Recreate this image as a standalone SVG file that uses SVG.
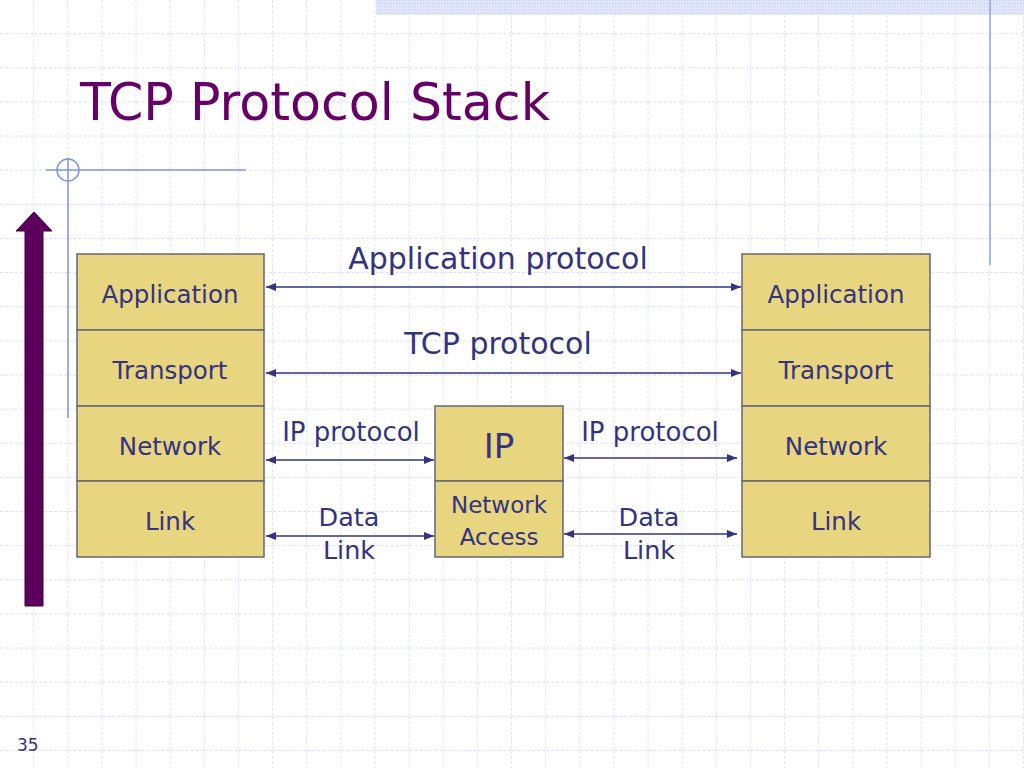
<svg xmlns="http://www.w3.org/2000/svg" width="1024" height="768" viewBox="0 0 1024 768">
<defs>
<pattern id="grid" x="0" y="0" width="34.133" height="34.133" patternUnits="userSpaceOnUse">
<path d="M34.133 0V34.133M0 34.133H34.133" fill="none" stroke="#ccd2f0" stroke-width="1.3" stroke-dasharray="3,2"/>
</pattern>
<pattern id="dots" x="0" y="0" width="3" height="3" patternUnits="userSpaceOnUse">
<rect width="3" height="3" fill="#e4e9fa"/>
<rect width="1.5" height="1.5" fill="#c9d2f2"/>
</pattern>
<marker id="ah" viewBox="0 0 10 10" refX="10" refY="5" markerWidth="10" markerHeight="10" markerUnits="userSpaceOnUse" orient="auto-start-reverse">
<path d="M0 1L10 5L0 9Z" fill="#333380"/>
</marker>
<style>
.box{fill:#e8d580;stroke:#666677;stroke-width:1.5}
.lbl{font-family:"DejaVu Sans",Verdana,sans-serif;fill:#333380;text-anchor:middle}
.con{stroke:#333380;stroke-width:1.5;fill:none;marker-start:url(#ah);marker-end:url(#ah)}
</style>
</defs>
<rect width="1024" height="768" fill="#ffffff"/>
<rect width="1024" height="768" fill="url(#grid)"/>
<rect x="376" y="0" width="648" height="15" fill="url(#dots)"/>
<line x1="990" y1="0" x2="990" y2="265" stroke="#8fa3e6" stroke-width="1.5"/>
<line x1="46" y1="170" x2="246" y2="170" stroke="#7f95e0" stroke-width="1.5"/>
<line x1="68" y1="158" x2="68" y2="418" stroke="#7f95e0" stroke-width="1.5"/>
<circle cx="68" cy="170" r="11" fill="none" stroke="#7f95e0" stroke-width="1.5"/>
<text x="80" y="120" font-family="DejaVu Sans,Verdana,sans-serif" font-size="52" fill="#660066" textLength="470" lengthAdjust="spacingAndGlyphs">TCP Protocol Stack</text>
<g id="updown">
<path d="M25 606V231H16L34 212L52 231H43V606Z" fill="#5c005c" stroke="#3d003d" stroke-width="1"/>
</g>
<g id="left-stack">
<rect class="box" x="77" y="254" width="187" height="76"/>
<rect class="box" x="77" y="330" width="187" height="76"/>
<rect class="box" x="77" y="406" width="187" height="75"/>
<rect class="box" x="77" y="481" width="187" height="76"/>
<text class="lbl" x="170" y="303" font-size="24.5">Application</text>
<text class="lbl" x="170" y="379" font-size="24.5">Transport</text>
<text class="lbl" x="170" y="455" font-size="24.5">Network</text>
<text class="lbl" x="170" y="530" font-size="24.5">Link</text>
</g>
<g id="right-stack">
<rect class="box" x="742" y="254" width="188" height="76"/>
<rect class="box" x="742" y="330" width="188" height="76"/>
<rect class="box" x="742" y="406" width="188" height="75"/>
<rect class="box" x="742" y="481" width="188" height="76"/>
<text class="lbl" x="836" y="303" font-size="24.5">Application</text>
<text class="lbl" x="836" y="379" font-size="24.5">Transport</text>
<text class="lbl" x="836" y="455" font-size="24.5">Network</text>
<text class="lbl" x="836" y="530" font-size="24.5">Link</text>
</g>
<g id="router">
<rect class="box" x="435" y="406" width="128" height="75"/>
<rect class="box" x="435" y="481" width="128" height="76"/>
<text class="lbl" x="499" y="458" font-size="34">IP</text>
<text class="lbl" x="499" y="513" font-size="23">Network</text>
<text class="lbl" x="499" y="545" font-size="23">Access</text>
</g>
<g id="connectors">
<line class="con" x1="266" y1="287" x2="741" y2="287"/>
<line class="con" x1="266" y1="373" x2="741" y2="373"/>
<line class="con" x1="266" y1="460" x2="434" y2="460"/>
<line class="con" x1="564" y1="458" x2="737" y2="458"/>
<line class="con" x1="266" y1="536" x2="434" y2="536"/>
<line class="con" x1="564" y1="534" x2="737" y2="534"/>
</g>
<g id="labels">
<text class="lbl" x="498" y="269" font-size="30">Application protocol</text>
<text class="lbl" x="498" y="354" font-size="30">TCP protocol</text>
<text class="lbl" x="351" y="441" font-size="26">IP protocol</text>
<text class="lbl" x="650" y="441" font-size="26">IP protocol</text>
<text class="lbl" x="349" y="526" font-size="25.5">Data</text>
<text class="lbl" x="349" y="559" font-size="25.5">Link</text>
<text class="lbl" x="649" y="526" font-size="25.5">Data</text>
<text class="lbl" x="649" y="559" font-size="25.5">Link</text>
</g>
<text x="17" y="751" font-family="DejaVu Sans,Verdana,sans-serif" font-size="17" fill="#333380">35</text>
</svg>
